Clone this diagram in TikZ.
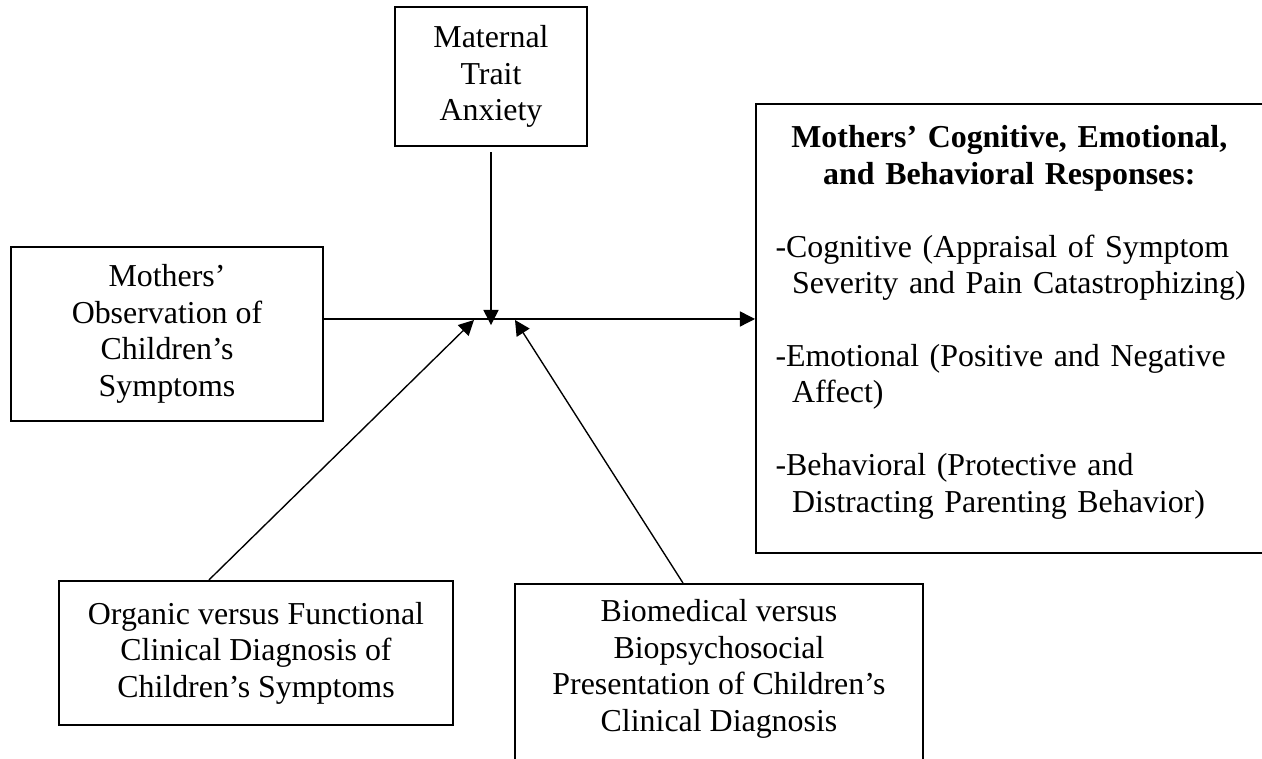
\documentclass[tikz,border=0pt]{standalone}
\usepackage{fontspec}
\setmainfont{Liberation Serif}
\usetikzlibrary{arrows.meta,positioning}
\begin{document}
\begin{tikzpicture}[x=0.3636pt, y=-0.3636pt, line join=miter, font=\fontsize{11.6}{13.25}\selectfont]
			\tikzset{box/.style={draw, line width=0.75pt, align=center, inner sep=0pt},
				link/.style={line width=0.5pt, -{Triangle[length=5.5pt,width=5.5pt]}}}
			\def\head#1{\makebox[170pt]{\bfseries #1}}
			\useasboundingbox (0,0) rectangle (1262,759);
			\clip (0,0) rectangle (1262,759);
			\node[box, minimum width=69.8pt, minimum height=50.5pt] (anx) at (491,76.5) {Maternal\\Trait\\Anxiety};
			\node[box, minimum width=113.4pt, minimum height=63.3pt] (obs) at (167,334) {Mothers’\\Observation of\\Children’s\\Symptoms};
			\node[box, minimum width=143.3pt, minimum height=52.4pt] (org) at (256,653) {Organic versus Functional\\Clinical Diagnosis of\\Children’s Symptoms};
			\node[box, minimum width=148.4pt, minimum height=79pt, anchor=north] (bio) at (719,583) {};
			\node[align=center, inner sep=0pt] (biotxt) at (719,669) {Biomedical versus\\Biopsychosocial\\Presentation of Children’s\\Clinical Diagnosis};
			\node[box, minimum width=198pt, minimum height=163.3pt, anchor=north west] (resp) at (755,103) {};
			\node[anchor=north west, text width=200pt, align=left, inner sep=0pt] (resptxt) at (775,125) {%
				\head{Mothers’ Cognitive, Emotional,}\\
				\head{and Behavioral Responses:}\\[\baselineskip]
				-Cognitive (Appraisal of Symptom\\
				\hspace*{6pt}Severity and Pain Catastrophizing)\\[\baselineskip]
				-Emotional (Positive and Negative\\
				\hspace*{6pt}Affect)\\[\baselineskip]
				-Behavioral (Protective and\\
				\hspace*{6pt}Distracting Parenting Behavior)};
			\coordinate (hub) at (491,319);
			\coordinate (tipL) at (474,320);
			\coordinate (tipR) at (515,320);
			\draw[link] (obs.east |- hub) -- (resp.west |- hub);
			\draw[link] ([yshift=-2pt]anx.south) -- ([yshift=-2.2pt]hub);
			\draw[link] ([xshift=-17.1pt]org.north) -- (tipL);
			\draw[link] ([xshift=-13.1pt]bio.north) -- (tipR);
		\end{tikzpicture}
\end{document}
